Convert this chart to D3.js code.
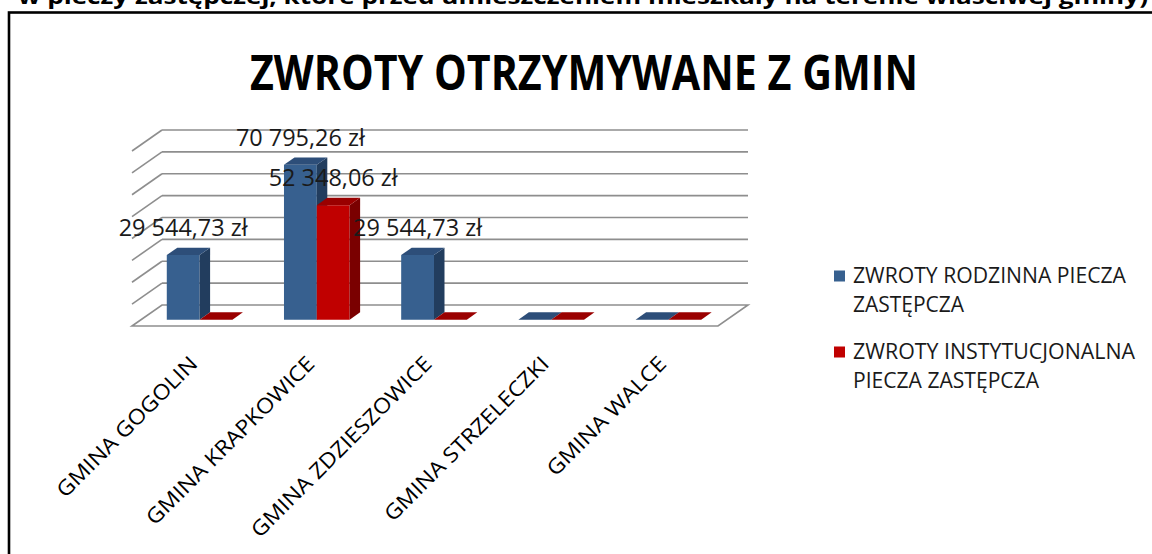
<!DOCTYPE html>
<html>
<head>
<meta charset="utf-8">
<script src="https://cdn.jsdelivr.net/npm/d3@7"></script>
<style>
  html, body { margin: 0; padding: 0; background: #fff; }
  svg { display: block; }
  text { font-family: "Open Sans", "Noto Sans", sans-serif; }
</style>
</head>
<body>
<svg id="chart" width="1152" height="554"></svg>
<script>
// ---- data ----
const categories = ["GMINA GOGOLIN", "GMINA KRAPKOWICE", "GMINA ZDZIESZOWICE", "GMINA STRZELECZKI", "GMINA WALCE"];
const seriesNames = ["ZWROTY RODZINNA PIECZA ZASTĘPCZA", "ZWROTY INSTYTUCJONALNA PIECZA ZASTĘPCZA"];
const rodzinna = [29544.73, 70795.26, 29544.73, 0, 0];
const instytucjonalna = [0, 52348.06, 0, 0, 0];
const yTicks = [0, 10000, 20000, 30000, 40000, 50000, 60000, 70000, 80000];
const legendLines = [["ZWROTY RODZINNA PIECZA", "ZASTĘPCZA"], ["ZWROTY INSTYTUCJONALNA", "PIECZA ZASTĘPCZA"]];
const titleText = "ZWROTY OTRZYMYWANE Z GMIN";
const headerText = "w pieczy zastępczej, które przed umieszczeniem mieszkały na terenie właściwej gminy)";

const series = [rodzinna, instytucjonalna];
const palette = [
  { front: "#37608f", side: "#223d5e", top: "#2d4e79" },
  { front: "#c00000", side: "#7a0000", top: "#9a0000" }
];

const svg = d3.select("#chart");
svg.append("rect").attr("width", 1152).attr("height", 554).attr("fill", "#fff");

// header text (cut off at top, as in the source)
svg.append("text")
  .attr("x", 18).attr("y", 4)
  .attr("font-size", 22).attr("font-weight", 700)
  .attr("textLength", 1130).attr("lengthAdjust", "spacingAndGlyphs")
  .attr("fill", "#000")
  .text(headerText);

// frame
svg.append("rect")
  .attr("x", 9).attr("y", 12.5).attr("width", 1200).attr("height", 600)
  .attr("fill", "none").attr("stroke", "#000").attr("stroke-width", 2.6);

// title
svg.append("text")
  .attr("x", 250).attr("y", 90)
  .attr("font-size", 48).attr("font-weight", 700)
  .attr("textLength", 668).attr("lengthAdjust", "spacingAndGlyphs")
  .attr("fill", "#000")
  .text(titleText);

// ---- 3D projection ----
const floorFront = 326, depthDX = 30, depthDY = -21;
const x = d3.scaleBand().domain(categories).range([132, 718]).paddingInner(0.44).paddingOuter(0.22);
const xs = d3.scaleBand().domain(d3.range(series.length)).range([0, x.bandwidth()]);
const h = d3.scaleLinear().domain([0, 80000]).range([0, 175]);
const P = (xv, v, z) => [xv + z * depthDX, floorFront - h(v) + z * depthDY];
const poly = pts => "M" + pts.map(p => p.join(",")).join("L") + "Z";
const xLeft = x.range()[0], xRight = x.range()[1];

const grid = svg.append("g").attr("stroke", "#8e8e8e").attr("stroke-width", 1.6).attr("fill", "none");
// floor
grid.append("path")
  .attr("d", poly([P(xLeft, 0, 0), P(xLeft, 0, 1), P(xRight, 0, 1), P(xRight, 0, 0)]))
  .attr("fill", "#fff");
// back wall gridlines + left wall diagonals
yTicks.forEach(t => {
  const a = P(xLeft, t, 1), b = P(xRight, t, 1), c = P(xLeft, t, 0);
  if (t > 0) {
    grid.append("line").attr("x1", a[0]).attr("y1", a[1]).attr("x2", b[0]).attr("y2", b[1]);
    grid.append("line").attr("x1", c[0]).attr("y1", c[1]).attr("x2", a[0]).attr("y2", a[1]);
  }
});

// bars
const z0 = 0.3, z1 = 0.65;
const bars = svg.append("g");
categories.forEach((cat, i) => {
  series.forEach((s, k) => {
    const v = s[i];
    const xl = x(cat) + xs(k), xr = xl + xs.bandwidth();
    const col = palette[k];
    if (v > 0) {
      bars.append("path").attr("fill", col.front)
        .attr("d", poly([P(xl, 0, z0), P(xr, 0, z0), P(xr, v, z0), P(xl, v, z0)]));
      bars.append("path").attr("fill", col.side)
        .attr("d", poly([P(xr, 0, z0), P(xr, 0, z1), P(xr, v, z1), P(xr, v, z0)]));
    }
    bars.append("path").attr("fill", col.top)
      .attr("d", poly([P(xl, v, z0), P(xr, v, z0), P(xr, v, z1), P(xl, v, z1)]));
  });
});

// data labels
const pl = d3.formatLocale({ decimal: ",", thousands: " ", grouping: [3], currency: ["", ""] });
const fmt = v => pl.format(",.2f")(v) + " zł";
const labels = svg.append("g").attr("font-size", 23).attr("fill", "#1a1a1a").attr("text-anchor", "middle");
categories.forEach((cat, i) => {
  series.forEach((s, k) => {
    const v = s[i];
    if (v <= 0) return;
    const xl = x(cat) + xs(k), xr = xl + xs.bandwidth();
    const p = P((xl + xr) / 2, v, z0);
    labels.append("text")
      .attr("x", p[0]).attr("y", p[1] - 19)
      .attr("textLength", 129).attr("lengthAdjust", "spacingAndGlyphs")
      .text(fmt(v));
  });
});

// category labels
const catG = svg.append("g").attr("font-size", 21).attr("fill", "#000");
const probe = catG.append("text").text(categories[0]);
const squeeze = 189 / probe.node().getComputedTextLength();
probe.remove();
categories.forEach(cat => {
  const cx = x(cat) + x.bandwidth() / 2 + 3;
  catG.append("text")
    .attr("transform", `translate(${cx},360) rotate(-45) scale(${squeeze},1)`)
    .attr("text-anchor", "end").attr("dy", "0.35em")
    .text(cat);
});

// legend
const legend = svg.append("g").attr("font-size", 21).attr("fill", "#1a1a1a");
const legendY = [283, 359];
const lineWidths = [[273, 111], [282, 186]];
legendLines.forEach((lines, k) => {
  legend.append("rect").attr("x", 834).attr("y", legendY[k] - 12.5)
    .attr("width", 11).attr("height", 11).attr("fill", palette[k].front);
  lines.forEach((ln, j) => {
    legend.append("text").attr("x", 853).attr("y", legendY[k] + j * 28.5)
      .attr("textLength", lineWidths[k][j]).attr("lengthAdjust", "spacingAndGlyphs")
      .text(ln);
  });
});
</script>
</body>
</html>
